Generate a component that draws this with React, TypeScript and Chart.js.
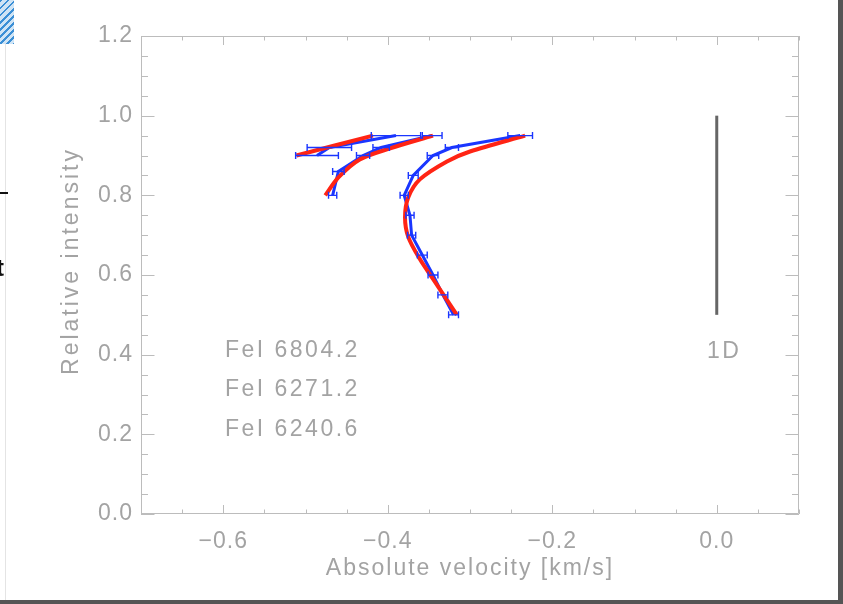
import React, { useEffect, useRef } from "react";
import { Chart, registerables } from "chart.js";

Chart.register(...registerables);

// ---- axes ----
const xMin = -0.7;
const xMax = 0.1;
const yMin = 0.0;
const yMax = 1.2;
const xTickValues = [-0.6, -0.4, -0.2, 0.0];
const yTickValues = [0.0, 0.2, 0.4, 0.6, 0.8, 1.0, 1.2];
const xTitle = "Absolute velocity [km/s]";
const yTitle = "Relative intensity";

// ---- curve A (top-left, short) ----
const aLevels = [0.9, 0.92, 0.95];
const aObsVel = [-0.486, -0.471, -0.39];
const aObsErr = [0.026, 0.027, 0.03];
const aModLevels = [0.9, 0.95];
const aModVel = [-0.511, -0.418];

// ---- curve B (middle) ----
const bLevels = [0.8, 0.86, 0.9, 0.92, 0.95];
const bObsVel = [-0.467, -0.46, -0.43, -0.408, -0.346];
const bObsErr = [0.005, 0.007, 0.008, 0.01, 0.012];
const bModLevels = [0.8, 0.845, 0.89, 0.918, 0.95];
const bModVel = [-0.476, -0.46, -0.434, -0.397, -0.345];

// ---- curve C (deep line) ----
const cLevels = [0.5, 0.55, 0.6, 0.65, 0.7, 0.75, 0.8, 0.85, 0.9, 0.92, 0.95];
const cObsVel = [-0.32, -0.333, -0.345, -0.358, -0.371, -0.373, -0.38, -0.369, -0.345, -0.322, -0.239];
const cObsErr = [0.006, 0.006, 0.006, 0.006, 0.005, 0.005, 0.005, 0.006, 0.007, 0.008, 0.015];
const cModLevels = [0.5, 0.59, 0.64, 0.695, 0.745, 0.795, 0.84, 0.885, 0.91, 0.95];
const cModVel = [-0.316, -0.345, -0.361, -0.375, -0.379, -0.375, -0.361, -0.328, -0.3, -0.233];

// ---- 1D reference bar ----
const refBarVel = [0.0, 0.0];
const refBarLevels = [0.5, 1.0];
const refBarLabel = "1D";
const refBarLabelPos = [0.009, 0.392];

// ---- line labels ----
const lineLabels = ["FeI 6804.2", "FeI 6271.2", "FeI 6240.6"];
const lineLabelX = -0.598;
const lineLabelY = [0.394, 0.296, 0.196];

const FONT = '"Liberation Sans", Arial, sans-serif';
const TXT = "#a3a3a3";
const AXIS = "#bcbcbc";
const BLUE = "#1a36ff";
const RED = "#ff2414";

const pts = (xs: number[], ys: number[]) => xs.map((x, i) => ({ x, y: ys[i] }));
const fmt = (v: number) => (v < -1e-9 ? "\u2212" : "") + Math.abs(v).toFixed(1);

const frameTicks = {
  id: "frameTicks",
  beforeDraw(chart: any) {
    chart.ctx.letterSpacing = "1px";
  },
  beforeDatasetsDraw(chart: any) {
    const { ctx, chartArea: a, scales } = chart;
    const xs = scales.x;
    const ys = scales.y;
    ctx.save();
    ctx.strokeStyle = AXIS;
    ctx.lineWidth = 1;
    ctx.beginPath();
    ctx.rect(a.left + 0.5, a.top + 0.5, a.right - a.left - 1, a.bottom - a.top - 1);
    const nx = Math.round((xMax - xMin) / 0.05);
    for (let i = 0; i <= nx; i++) {
      const v = xMin + i * 0.05;
      const major = Math.abs(v / 0.2 - Math.round(v / 0.2)) < 1e-6;
      const len = major ? 9 : 4.5;
      const px = Math.round(xs.getPixelForValue(v)) + 0.5;
      ctx.moveTo(px, a.bottom);
      ctx.lineTo(px, a.bottom - len);
      ctx.moveTo(px, a.top);
      ctx.lineTo(px, a.top + len);
    }
    const ny = Math.round((yMax - yMin) / 0.05);
    for (let i = 0; i <= ny; i++) {
      const v = yMin + i * 0.05;
      const major = i % 4 === 0;
      const len = major ? 13.5 : 7;
      const py = Math.round(ys.getPixelForValue(v)) + 0.5;
      ctx.moveTo(a.left, py);
      ctx.lineTo(a.left + len, py);
      ctx.moveTo(a.right, py);
      ctx.lineTo(a.right - len, py);
    }
    ctx.stroke();
    ctx.restore();
  },
  afterDatasetsDraw(chart: any) {
    const { ctx, scales } = chart;
    const xs = scales.x;
    const ys = scales.y;
    chart.data.datasets.forEach((ds: any) => {
      if (!ds.errs) return;
      ctx.save();
      ctx.strokeStyle = ds.borderColor;
      ctx.lineWidth = 1.4;
      ctx.beginPath();
      ds.data.forEach((p: any, j: number) => {
        const e = ds.errs[j];
        const x0 = xs.getPixelForValue(p.x - e);
        const x1 = xs.getPixelForValue(p.x + e);
        const py = ys.getPixelForValue(p.y);
        ctx.moveTo(x0, py);
        ctx.lineTo(x1, py);
        ctx.moveTo(x0, py - 3.5);
        ctx.lineTo(x0, py + 3.5);
        ctx.moveTo(x1, py - 3.5);
        ctx.lineTo(x1, py + 3.5);
      });
      ctx.stroke();
      ctx.restore();
    });
  },
  afterDraw(chart: any) {
    const { ctx, chartArea: a, scales } = chart;
    const xs = scales.x;
    const ys = scales.y;
    ctx.save();
    ctx.fillStyle = TXT;
    ctx.font = `23px ${FONT}`;
    ctx.letterSpacing = "2.5px";
    ctx.textBaseline = "alphabetic";
    ctx.textAlign = "left";
    lineLabels.forEach((t, i) => {
      ctx.fillText(t, xs.getPixelForValue(lineLabelX), ys.getPixelForValue(lineLabelY[i]));
    });
    ctx.textAlign = "center";
    ctx.fillText(refBarLabel, xs.getPixelForValue(refBarLabelPos[0]), ys.getPixelForValue(refBarLabelPos[1]));
    ctx.letterSpacing = "2px";
    ctx.fillText(xTitle, (a.left + a.right) / 2, 575);
    ctx.letterSpacing = "3px";
    ctx.translate(78, 261);
    ctx.rotate(-Math.PI / 2);
    ctx.fillText(yTitle, 0, 0);
    ctx.restore();
  },
};

export default function App() {
  const ref = useRef<HTMLCanvasElement | null>(null);

  useEffect(() => {
    if (!ref.current) return;
    const chart = new Chart(ref.current, {
      type: "scatter",
      data: {
        datasets: [
          { label: "model A", data: pts(aModVel, aModLevels), showLine: true, borderColor: RED, borderWidth: 4, pointRadius: 0, tension: 0.3 } as any,
          { label: "model B", data: pts(bModVel, bModLevels), showLine: true, borderColor: RED, borderWidth: 4, pointRadius: 0, tension: 0.3 } as any,
          { label: "model C", data: pts(cModVel, cModLevels), showLine: true, borderColor: RED, borderWidth: 4, pointRadius: 0, tension: 0.3 } as any,
          { label: "obs A", data: pts(aObsVel, aLevels), errs: aObsErr, showLine: true, borderColor: BLUE, borderWidth: 3, pointRadius: 0, tension: 0 } as any,
          { label: "obs B", data: pts(bObsVel, bLevels), errs: bObsErr, showLine: true, borderColor: BLUE, borderWidth: 3, pointRadius: 0, tension: 0 } as any,
          { label: "obs C", data: pts(cObsVel, cLevels), errs: cObsErr, showLine: true, borderColor: BLUE, borderWidth: 3, pointRadius: 0, tension: 0 } as any,
          { label: "1D", data: pts(refBarVel, refBarLevels), showLine: true, borderColor: "#666666", borderWidth: 3, pointRadius: 0, borderCapStyle: "butt" } as any,
        ],
      },
      options: {
        animation: false,
        responsive: false,
        devicePixelRatio: 1,
        layout: { padding: { top: 36, right: 44, left: 0, bottom: 0 } },
        plugins: { legend: { display: false }, tooltip: { enabled: false } },
        scales: {
          x: {
            type: "linear",
            min: xMin,
            max: xMax,
            afterBuildTicks: (s: any) => {
              s.ticks = xTickValues.map((v) => ({ value: v }));
            },
            afterFit: (s: any) => {
              s.height = 90;
            },
            grid: { display: false, drawTicks: false },
            border: { display: false },
            ticks: {
              color: TXT,
              font: { family: FONT, size: 23 },
              padding: 14,
              maxRotation: 0,
              autoSkip: false,
              callback: (v: any) => fmt(Number(v)),
            },
          },
          y: {
            type: "linear",
            min: yMin,
            max: yMax,
            afterBuildTicks: (s: any) => {
              s.ticks = yTickValues.map((v) => ({ value: v }));
            },
            afterFit: (s: any) => {
              s.width = 141;
            },
            grid: { display: false, drawTicks: false },
            border: { display: false },
            ticks: {
              color: TXT,
              font: { family: FONT, size: 23 },
              padding: 8,
              autoSkip: false,
              callback: (v: any) => fmt(Number(v)),
            },
          },
        },
      } as any,
      plugins: [frameTicks],
    });
    return () => chart.destroy();
  }, []);

  return (
    <div style={{ position: "fixed", left: 0, top: 0, width: 843, height: 604, background: "#fff", overflow: "hidden" }}>
      <canvas ref={ref} width={843} height={604} style={{ position: "absolute", left: 0, top: 0, width: 843, height: 604 }} />
      <div style={{ position: "absolute", left: 0, top: 0, width: 14, height: 44, background: "repeating-linear-gradient(135deg, #3b8fd6 0 2px, #cfe4f5 2px 5px)" }} />
      <div style={{ position: "absolute", left: 5, top: 44, width: 1, height: 556, background: "#e4e4e4" }} />
      <div style={{ position: "absolute", left: 0, top: 192, width: 8, height: 2, background: "#111" }} />
      <div style={{ position: "absolute", left: -4, top: 254, fontFamily: FONT, fontWeight: "bold", fontSize: 24, color: "#111" }}>t</div>
      <div style={{ position: "absolute", left: 838, top: 0, width: 5, height: 604, background: "#555" }} />
      <div style={{ position: "absolute", left: 0, top: 600, width: 843, height: 4, background: "#555" }} />
    </div>
  );
}
